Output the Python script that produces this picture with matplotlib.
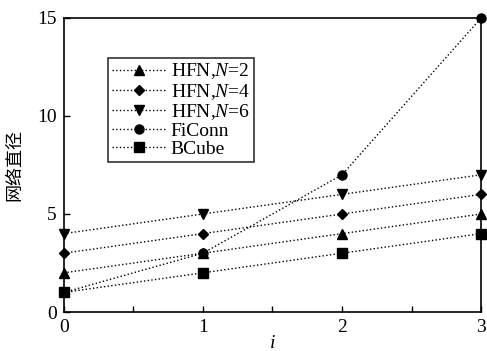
import matplotlib
matplotlib.use("Agg")
import matplotlib.pyplot as plt
from matplotlib.ticker import MultipleLocator

plt.rcParams['font.family'] = ['Liberation Serif', 'Noto Sans CJK SC']
plt.rcParams['mathtext.fontset'] = 'custom'
plt.rcParams['mathtext.it'] = 'Liberation Serif:italic'
plt.rcParams['mathtext.rm'] = 'Liberation Serif'

x = [0, 1, 2, 3]
hfn2 = [2, 3, 4, 5]
hfn4 = [3, 4, 5, 6]
hfn6 = [4, 5, 6, 7]
ficonn = [1, 3, 7, 15]
bcube = [1, 2, 3, 4]
labels = ['HFN,$N$=2', 'HFN,$N$=4', 'HFN,$N$=6', 'FiConn', 'BCube']
markers = ['^', 'D', 'v', 'o', 's']
sizes = [7, 5.5, 7, 6.5, 6.5]

fig = plt.figure(figsize=(4.87, 3.51), dpi=100)
ax = fig.add_axes([0.131, 0.111, 0.857, 0.838])
for ys, lab, m, s in zip([hfn2, hfn4, hfn6, ficonn, bcube], labels, markers, sizes):
    ax.plot(x, ys, linestyle=':', color='black', linewidth=1.0, marker=m,
            markersize=s, markerfacecolor='black', markeredgecolor='black',
            label=lab, clip_on=False, zorder=3)

ax.set_xlim(0, 3)
ax.set_ylim(0, 15)
ax.xaxis.set_major_locator(MultipleLocator(1))
ax.xaxis.set_minor_locator(MultipleLocator(0.5))
ax.yaxis.set_major_locator(MultipleLocator(5))
ax.tick_params(direction='in', labelsize=14, top=False, right=False, length=4, width=1, pad=5)
ax.tick_params(which='minor', direction='in', length=4, width=1, top=False)
for sp in ax.spines.values():
    sp.set_linewidth(1.2)

ax.set_xlabel('$i$', fontsize=14, labelpad=-1)
ax.set_ylabel('网络直径', fontsize=13, family=['Noto Sans CJK SC'], labelpad=10)

leg = ax.legend(loc='upper left', bbox_to_anchor=(0.107, 0.865), frameon=True,
                fancybox=False, edgecolor='black', fontsize=14, handlelength=2.7,
                labelspacing=0.02, borderpad=0.2, handletextpad=0.3,
                borderaxespad=0)
leg.get_frame().set_linewidth(1.2)

fig.savefig('out.png', dpi=100)
